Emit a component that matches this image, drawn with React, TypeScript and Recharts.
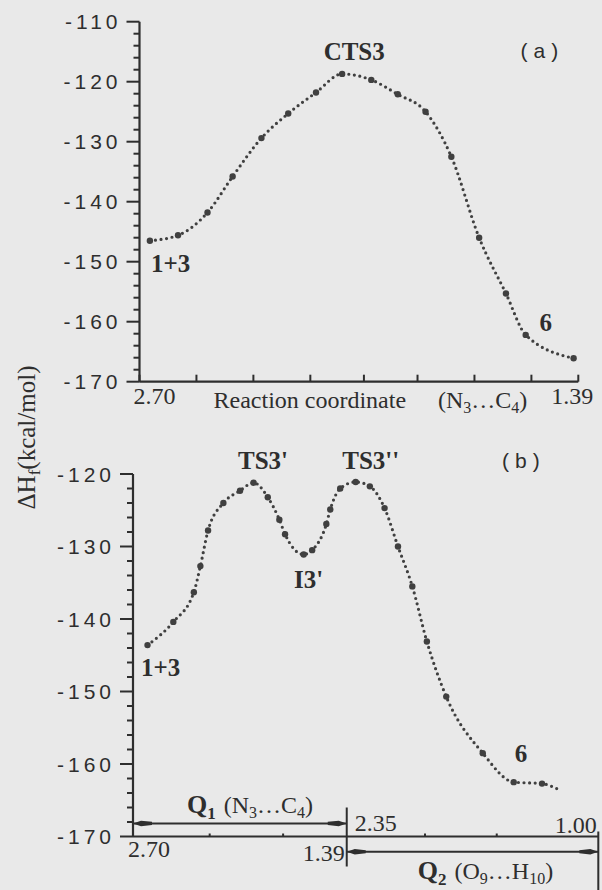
import React from "react";
import { LineChart, Line, XAxis, YAxis, ReferenceDot, ReferenceLine } from "recharts";

const INK = "#2e2e2e";
const DOTS = "#404040";
const PAPER = "#e9e9e9";
const SERIF = '"Liberation Serif", "Times New Roman", serif';
const SANS = '"Liberation Sans", Arial, sans-serif';

// (a) energy profile along N3...C4 (Angstrom) -> heat of formation (kcal/mol)
const A_DIST = [2.669, 2.585, 2.497, 2.422, 2.336, 2.256, 2.173, 2.095, 2.008, 1.929, 1.846, 1.769, 1.686, 1.606, 1.547, 1.404];
const A_HEAT = [-146.5, -145.6, -141.8, -135.8, -129.4, -125.3, -121.8, -118.7, -119.7, -122.1, -125.0, -132.5, -146.0, -155.3, -162.2, -166.1];
const A_X_TICKS = [2.7, 2.53, 2.36, 2.19, 2.03, 1.87, 1.7, 1.53, 1.39];
const A_X_LABELS = ["2.70", "1.39"];
const A_Y_TICKS = [-170, -168, -166, -164, -162, -160, -158, -156, -154, -152, -150, -148, -146, -144, -142, -140, -138, -136, -134, -132, -130, -128, -126, -124, -122, -120, -118, -116, -114, -112, -110];
const A_NOTES = [
  { d: 2.059, e: -115.0, text: "CTS3" },
  { d: 2.607, e: -150.3, text: "1+3" },
  { d: 1.487, e: -160.1, text: "6" },
];

// (b) two-stage path: Q1 = N3...C4 then Q2 = O9...H10
const B_Q1_DIST = [2.611, 2.453, 2.327, 2.287, 2.24, 2.146, 2.044, 1.961, 1.874, 1.803, 1.768, 1.654, 1.602, 1.515, 1.491, 1.43];
const B_Q1_HEAT = [-143.6, -140.4, -136.3, -132.7, -127.8, -124.0, -122.3, -121.2, -123.2, -126.3, -128.3, -131.1, -130.5, -126.9, -124.9, -122.0];
const B_Q2_DIST = [2.302, 2.226, 2.147, 2.075, 1.998, 1.92, 1.816, 1.62, 1.454, 1.302];
const B_Q2_HEAT = [-121.1, -121.7, -124.7, -130.0, -135.5, -143.1, -150.7, -158.5, -162.5, -162.7];
const B_TAIL = { d: 1.223, e: -163.4 };
const B_Y_TICKS = [-170, -168, -166, -164, -162, -160, -158, -156, -154, -152, -150, -148, -146, -144, -142, -140, -138, -136, -134, -132, -130, -128, -126, -124, -122, -120];
const Q1_RANGE = [2.7, 1.39];
const Q2_RANGE = [2.35, 1.0];
const Q1_TICKS = [2.23, 1.78];
const Q2_TICKS = [1.93, 1.545];
const B_X_LABELS = ["2.70", "1.39", "2.35", "1.00"];
const B_NOTES = [
  { seg: 1, d: 1.903, e: -118.2, text: "TS3'" },
  { seg: 2, d: 2.221, e: -118.2, text: "TS3''" },
  { seg: 1, d: 1.624, e: -134.5, text: "I3'" },
  { seg: 1, d: 2.531, e: -146.7, text: "1+3" },
  { seg: 2, d: 1.415, e: -158.55, text: "6" },
];

// Q2 occupies a slightly longer stretch of the axis than Q1
const Q2_SPAN = 1.177;
const sQ1 = (d: number) => (Q1_RANGE[0] - d) / (Q1_RANGE[0] - Q1_RANGE[1]);
const sQ2 = (d: number) => 1 + ((Q2_RANGE[0] - d) / (Q2_RANGE[0] - Q2_RANGE[1])) * Q2_SPAN;
const S_END = 1 + Q2_SPAN;

const dataA = A_DIST.map((d, i) => ({ d, e: A_HEAT[i] }));
const dataB = [
  ...B_Q1_DIST.map((d, i) => ({ s: sQ1(d), e: B_Q1_HEAT[i] })),
  ...B_Q2_DIST.map((d, i) => ({ s: sQ2(d), e: B_Q2_HEAT[i] })),
  { s: sQ2(B_TAIL.d), e: B_TAIL.e, tail: true },
];
const B_X_TICKS = [0, ...Q1_TICKS.map(sQ1), 1, ...Q2_TICKS.map(sQ2), S_END];

const YTick = (props: any) => {
  const { x, y, payload } = props;
  const v = payload.value;
  const major = v % 10 === 0;
  return (
    <g>
      <line x1={x - (major ? 13 : 6)} x2={x} y1={y} y2={y} stroke={INK} strokeWidth={2} />
      {major && (
        <text x={x - 18} y={y + 7.5} textAnchor="end" fontFamily={SANS} fontSize={21} letterSpacing={4} fill={INK}>
          {v}
        </text>
      )}
    </g>
  );
};

const XTickA = (props: any) => {
  const { x, y, index } = props;
  const first = index === 0;
  const last = index === A_X_TICKS.length - 1;
  return (
    <g>
      <line x1={x} x2={x} y1={y} y2={y - 7} stroke={INK} strokeWidth={2} />
      {first && (
        <text x={x - 6} y={y + 22} fontFamily={SERIF} fontSize={24} fill={INK}>
          {A_X_LABELS[0]}
        </text>
      )}
      {last && (
        <text x={x + 15} y={y + 22} textAnchor="end" fontFamily={SERIF} fontSize={24} fill={INK}>
          {A_X_LABELS[1]}
        </text>
      )}
    </g>
  );
};

const XTickB = (props: any) => {
  const { x, y, index } = props;
  const txt = { fontFamily: SERIF, fontSize: 24, fill: INK };
  if (index === 0) {
    return (
      <text x={x - 5} y={y + 20} {...txt}>
        {B_X_LABELS[0]}
      </text>
    );
  }
  if (index === 3) {
    return (
      <g>
        <line x1={x} x2={x} y1={y - 29} y2={y + 30} stroke={INK} strokeWidth={2} />
        <text x={x - 2} y={y + 24.5} textAnchor="end" {...txt}>
          {B_X_LABELS[1]}
        </text>
        <text x={x + 8} y={y - 6} {...txt}>
          {B_X_LABELS[2]}
        </text>
      </g>
    );
  }
  if (index === B_X_TICKS.length - 1) {
    return (
      <g>
        <line x1={x} x2={x} y1={y - 5} y2={y + 54} stroke={INK} strokeWidth={2} />
        <text x={x - 1.5} y={y - 3.5} textAnchor="end" {...txt}>
          {B_X_LABELS[3]}
        </text>
      </g>
    );
  }
  return <line x1={x} x2={x} y1={y} y2={y - 3} stroke={INK} strokeWidth={2} />;
};

const AxisTitleA = (props: any) => {
  const { viewBox } = props;
  const y = viewBox.y + 26.5;
  return (
    <g fontFamily={SERIF} fontSize={24} fill={INK}>
      <text x={viewBox.x + 74} y={y}>Reaction coordinate</text>
      <text x={viewBox.x + 298.5} y={y}>
        (N<tspan dy={5} fontSize={16}>3</tspan>
        <tspan dy={-5}>…C</tspan>
        <tspan dy={5} fontSize={16}>4</tspan>
        <tspan dy={-5}>)</tspan>
      </text>
    </g>
  );
};

const Dot = (props: any) => {
  const { cx, cy, payload, index } = props;
  if (payload.tail) return <g key={`dot-${index}`} />;
  return <circle key={`dot-${index}`} cx={cx} cy={cy} r={3.2} fill={DOTS} stroke="none" />;
};

const noteShape = (text: string) => (p: any) => (
  <text
    x={p.cx}
    y={p.cy}
    textAnchor="middle"
    dominantBaseline="central"
    fontFamily={SERIF}
    fontWeight="bold"
    fontSize={25}
    fill={INK}
  >
    {text}
  </text>
);

const panelShape = (text: string) => (p: any) => (
  <text x={p.cx} y={p.cy} textAnchor="middle" dominantBaseline="central" fontFamily={SANS} fontSize={21} letterSpacing={6} fill={INK}>
    {text}
  </text>
);

const arrowHead = (x: number, y: number, dir: number) => (
  <polygon points={`${x},${y} ${x + dir * 8},${y - 2.8} ${x + dir * 19},${y - 1.6} ${x + dir * 19},${y + 1.6} ${x + dir * 8},${y + 2.8}`} fill={INK} />
);

const q1Arrow = (p: any) => (
  <g>
    <line x1={p.x1} x2={p.x2} y1={p.y1} y2={p.y2} stroke={INK} strokeWidth={2} />
    {arrowHead(p.x1, p.y1, 1)}
    {arrowHead(p.x2, p.y2, -1)}
    <text x={p.x1 + 54} y={p.y1 - 10} fontFamily={SERIF} fontSize={24} fill={INK}>
      <tspan fontWeight="bold" fontSize={26}>Q</tspan>
      <tspan fontWeight="bold" fontSize={17} dy={6}>1</tspan>
      <tspan dy={-6} dx={8}>(N</tspan>
      <tspan dy={5} fontSize={16}>3</tspan>
      <tspan dy={-5}>…C</tspan>
      <tspan dy={5} fontSize={16}>4</tspan>
      <tspan dy={-5}>)</tspan>
    </text>
  </g>
);

const q2Arrow = (p: any) => (
  <g>
    <line x1={p.x1} x2={p.x2} y1={p.y1} y2={p.y2} stroke={INK} strokeWidth={2} />
    {arrowHead(p.x1, p.y1, 1)}
    {arrowHead(p.x2, p.y2, -1)}
    <text x={p.x1 + 71} y={p.y1 + 27} fontFamily={SERIF} fontSize={24} fill={INK}>
      <tspan fontWeight="bold" fontSize={26}>Q</tspan>
      <tspan fontWeight="bold" fontSize={17} dy={6}>2</tspan>
      <tspan dy={-6} dx={8}>(O</tspan>
      <tspan dy={5} fontSize={16}>9</tspan>
      <tspan dy={-5}>…H</tspan>
      <tspan dy={5} fontSize={16}>10</tspan>
      <tspan dy={-5}>)</tspan>
    </text>
  </g>
);

const lineStyle = {
  stroke: DOTS,
  strokeWidth: 3.2,
  strokeDasharray: "0 5.6",
  strokeLinecap: "round" as const,
};

export default function App() {
  return (
    <div style={{ position: "absolute", left: 0, top: 0, width: 602, height: 890, background: PAPER, overflow: "hidden" }}>
      <div style={{ position: "absolute", left: 0, top: 0 }}>
        <LineChart width={602} height={420} data={dataA} margin={{ top: 21.7, right: 23.7, left: 0, bottom: 0 }}>
          <XAxis
            type="number"
            dataKey="d"
            domain={[1.39, 2.7]}
            reversed
            ticks={A_X_TICKS}
            interval={0}
            height={38.3}
            tickSize={0}
            tickMargin={0}
            tickLine={false}
            axisLine={{ stroke: INK, strokeWidth: 2.2 }}
            tick={<XTickA />}
            label={<AxisTitleA />}
          />
          <YAxis
            type="number"
            domain={[-170, -110]}
            ticks={A_Y_TICKS}
            interval={0}
            width={139.5}
            tickSize={0}
            tickMargin={0}
            tickLine={false}
            axisLine={{ stroke: INK, strokeWidth: 2.2 }}
            tick={<YTick />}
          />
          <Line type="monotone" dataKey="e" {...lineStyle} dot={Dot} activeDot={false} isAnimationActive={false} />
          {A_NOTES.map((n) => (
            <ReferenceDot key={n.text} x={n.d} y={n.e} r={3} ifOverflow="visible" shape={noteShape(n.text)} />
          ))}
          <ReferenceDot x={1.497} y={-114.8} r={3} ifOverflow="visible" shape={panelShape("(a)")} />
        </LineChart>
      </div>
      <div style={{ position: "absolute", left: 0, top: 420 }}>
        <LineChart width={602} height={470} data={dataB} margin={{ top: 54, right: 3.7, left: 0, bottom: 0 }}>
          <XAxis
            type="number"
            dataKey="s"
            domain={[0, S_END]}
            ticks={B_X_TICKS}
            interval={0}
            height={53.5}
            tickSize={0}
            tickMargin={0}
            tickLine={false}
            axisLine={{ stroke: INK, strokeWidth: 2.2 }}
            tick={<XTickB />}
          />
          <YAxis
            type="number"
            domain={[-170, -120]}
            ticks={B_Y_TICKS}
            interval={0}
            width={133}
            tickSize={0}
            tickMargin={0}
            tickLine={false}
            axisLine={{ stroke: INK, strokeWidth: 2.2 }}
            tick={<YTick />}
          />
          <Line type="monotone" dataKey="e" {...lineStyle} dot={Dot} activeDot={false} isAnimationActive={false} />
          {B_NOTES.map((n) => (
            <ReferenceDot
              key={n.text}
              x={n.seg === 1 ? sQ1(n.d) : sQ2(n.d)}
              y={n.e}
              r={3}
              ifOverflow="visible"
              shape={noteShape(n.text)}
            />
          ))}
          <ReferenceDot x={sQ2(1.399)} y={-118.2} r={3} ifOverflow="visible" shape={panelShape("(b)")} />
          <ReferenceLine
            segment={[
              { x: 0, y: -168.2 },
              { x: 1, y: -168.2 },
            ]}
            ifOverflow="visible"
            shape={q1Arrow}
          />
          <ReferenceLine
            segment={[
              { x: 1, y: -172.1 },
              { x: S_END, y: -172.1 },
            ]}
            ifOverflow="visible"
            shape={q2Arrow}
          />
        </LineChart>
      </div>
      <svg width={602} height={890} style={{ position: "absolute", left: 0, top: 0, pointerEvents: "none" }}>
        <text transform="translate(35 437.5) rotate(-90)" textAnchor="middle" fontFamily={SERIF} fontSize={25} fill={INK}>
          ΔH<tspan dy={5} fontSize={17}>f</tspan>
          <tspan dy={-5}>(kcal/mol)</tspan>
        </text>
      </svg>
    </div>
  );
}
